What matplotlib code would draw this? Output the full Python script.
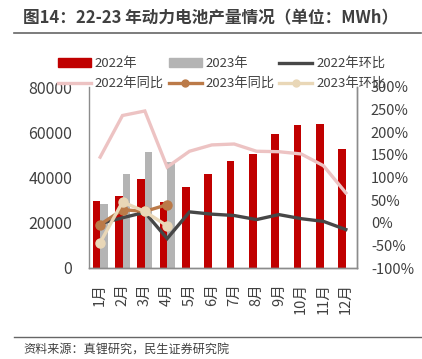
import matplotlib
matplotlib.use("Agg")
import matplotlib.pyplot as plt
import numpy as np
from matplotlib.lines import Line2D

plt.rcParams['font.family'] = ['Noto Sans CJK SC', 'DejaVu Sans']
plt.rcParams['axes.unicode_minus'] = False

# 数据
months = ['1月', '2月', '3月', '4月', '5月', '6月', '7月', '8月', '9月', '10月', '11月', '12月']
prod_2022 = [29600, 31800, 39300, 29000, 35700, 41400, 47400, 50400, 59400, 63100, 63600, 52600]
prod_2023 = [28300, 41500, 51400, 47000]
yoy_2022 = [145, 237, 247, 123, 158, 172, 174, 158, 157, 152, 126, 66]
mom_2022 = [-2, 11, 23, -35, 24, 19, 16, 7, 18, 9, 3, -15]
yoy_2023 = [-4, 29, 25, 40]
mom_2023 = [-44, 46, 25, -7]

red = '#C00000'
grey = '#B4B4B4'
dark = '#474747'
pink = '#EDC3C3'
brown = '#BB7A48'
beige = '#E9D7B7'
txt = '#404040'

fig = plt.figure(figsize=(4.22, 3.59), dpi=100)
ax = fig.add_axes([89 / 422, 1 - 268 / 359, 268 / 422, 181 / 359])
ax2 = ax.twinx()

x = np.arange(len(months))
w = 0.33
ax.bar(x - w / 2, prod_2022, width=w, color=red, zorder=2)
ax.bar(x[:len(prod_2023)] + w / 2, prod_2023, width=w, color=grey, zorder=2)

ax2.plot(x, yoy_2022, color=pink, lw=2.4, solid_joinstyle='miter')
ax2.plot(x, mom_2022, color=dark, lw=2.4, solid_joinstyle='miter')
ax2.plot(x[:4], yoy_2023, color=brown, lw=2.4, marker='o', ms=6.5)
ax2.plot(x[:4], mom_2023, color=beige, lw=2.4, marker='o', ms=6.5)

ax.set_xlim(-0.5, 11.5)
ax.set_ylim(0, 80000)
ax.set_yticks(range(0, 80001, 20000))
ax2.set_ylim(-100, 300)
ax2.set_yticks(range(-100, 301, 50))
ax2.set_yticklabels([f'{v}%' for v in range(-100, 301, 50)])

ax.set_xticks(x)
ax.set_xticklabels(months, rotation=90, va='top')

for a in (ax, ax2):
    a.spines['top'].set_visible(False)
    for s in ('left', 'right', 'bottom'):
        a.spines[s].set_color('#8C8C8C')
        a.spines[s].set_linewidth(1.0)
    a.tick_params(length=0, colors=txt)

ax.tick_params(axis='y', labelsize=11.5, pad=12)
ax.tick_params(axis='x', labelsize=10.5, pad=11)
ax2.tick_params(axis='y', labelsize=10.5, pad=10)
ax2.spines['left'].set_visible(False)

# 图例
handles = [
    plt.Rectangle((0, 0), 1, 1, color=red),
    Line2D([], [], color=pink, lw=2.4),
    plt.Rectangle((0, 0), 1, 1, color=grey),
    Line2D([], [], color=brown, lw=2.4, marker='o', ms=5),
    Line2D([], [], color=dark, lw=2.4),
    Line2D([], [], color=beige, lw=2.4, marker='o', ms=5),
]
labels = ['2022年', '2022年同比', '2023年', '2023年同比', '2022年环比', '2023年环比']
leg = fig.legend(handles, labels, ncol=3, loc='upper left',
                 bbox_to_anchor=(58 / 422, 1 - 57 / 359), frameon=False,
                 fontsize=9.5, handlelength=2.5, handleheight=0.6,
                 handletextpad=0.3, columnspacing=0.35, labelspacing=0.55,
                 borderpad=0, borderaxespad=0)
for t in leg.get_texts():
    t.set_color(txt)

# 标题与来源
fig.text(23 / 422, 1 - 18 / 359, '图14：22-23 年动力电池产量情况（单位：MWh）',
         fontsize=12, fontweight='bold', color=txt, va='center', ha='left')
fig.add_artist(Line2D([14 / 422, 421 / 422], [1 - 33 / 359, 1 - 33 / 359],
                      color='#666666', lw=1.2))
fig.add_artist(Line2D([14 / 422, 421 / 422], [1 - 337 / 359, 1 - 337 / 359],
                      color='#666666', lw=1.0))
fig.text(23 / 422, 1 - 350 / 359, '资料来源：真锂研究，民生证券研究院',
         fontsize=8.7, color=txt, va='center', ha='left')

fig.savefig('out.png', dpi=100)
